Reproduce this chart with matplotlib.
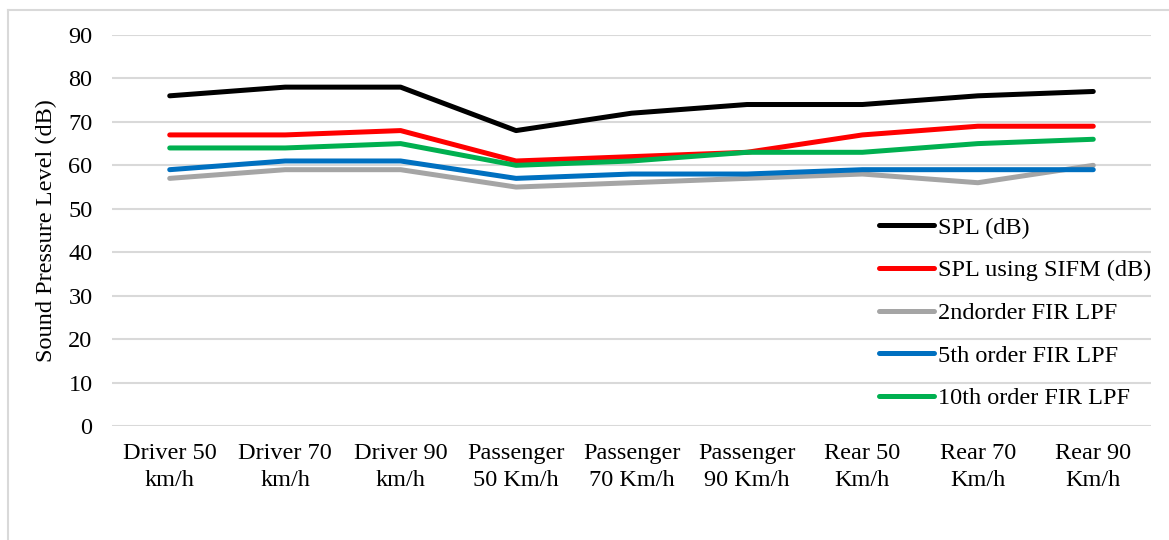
import matplotlib
matplotlib.use('Agg')
import matplotlib.pyplot as plt
from matplotlib.lines import Line2D

plt.rcParams['font.family'] = ['Liberation Serif', 'DejaVu Serif']

categories = ['Driver 50\nkm/h', 'Driver 70\nkm/h', 'Driver 90\nkm/h',
              'Passenger\n50 Km/h', 'Passenger\n70 Km/h', 'Passenger\n90 Km/h',
              'Rear 50\nKm/h', 'Rear 70\nKm/h', 'Rear 90\nKm/h']
spl = [76, 78, 78, 68, 72, 74, 74, 76, 77]
spl_sifm = [67, 67, 68, 61, 62, 63, 67, 69, 69]
fir_2nd = [57, 59, 59, 55, 56, 57, 58, 56, 60]
fir_5th = [59, 61, 61, 57, 58, 58, 59, 59, 59]
fir_10th = [64, 64, 65, 60, 61, 63, 63, 65, 66]

series = [
    ('SPL (dB)', spl, '#000000'),
    ('SPL using SIFM (dB)', spl_sifm, '#ff0000'),
    ('2ndorder FIR LPF', fir_2nd, '#a5a5a5'),
    ('5th order FIR LPF', fir_5th, '#0070c0'),
    ('10th order FIR LPF', fir_10th, '#00b050'),
]

fs = 17.5

fig = plt.figure(figsize=(11.69, 5.40), dpi=100)
ax = fig.add_axes([112 / 1169, 1 - 426 / 540, (1151 - 112) / 1169, (426 - 35) / 540])

x = range(len(categories))
for name, vals, col in series:
    ax.plot(x, vals, color=col, lw=3.6, label=name,
            solid_capstyle='round', solid_joinstyle='round', zorder=3)

ax.set_xlim(-0.5, len(categories) - 0.5)
ax.set_ylim(0, 90)
ax.set_yticks(range(0, 91, 10))
ax.set_xticks(list(x))
ax.set_xticklabels(categories, fontsize=fs, linespacing=1.4)
ax.tick_params(axis='x', length=0, pad=12)
ax.tick_params(axis='y', length=0, pad=14, labelsize=fs)
ax.grid(axis='y', color='#d9d9d9', lw=1.5, zorder=0)
for s in ax.spines.values():
    s.set_visible(False)
ax.set_ylabel('Sound Pressure Level (dB)', fontsize=fs, labelpad=8)

leg = ax.legend(loc='center left', bbox_to_anchor=(879 / 1169, 1 - 313 / 540),
                bbox_transform=fig.transFigure, frameon=False, fontsize=fs,
                handlelength=2.26, handletextpad=0.15, labelspacing=0.85,
                borderpad=0, borderaxespad=0)

# outer chart border (top and left only)
fig.add_artist(Line2D([8 / 1169, 1], [1 - 10 / 540] * 2, color='#d9d9d9', lw=1.5,
                      transform=fig.transFigure))
fig.add_artist(Line2D([8 / 1169] * 2, [0, 1 - 10 / 540], color='#d9d9d9', lw=1.5,
                      transform=fig.transFigure))

fig.savefig('out.png', dpi=100)
